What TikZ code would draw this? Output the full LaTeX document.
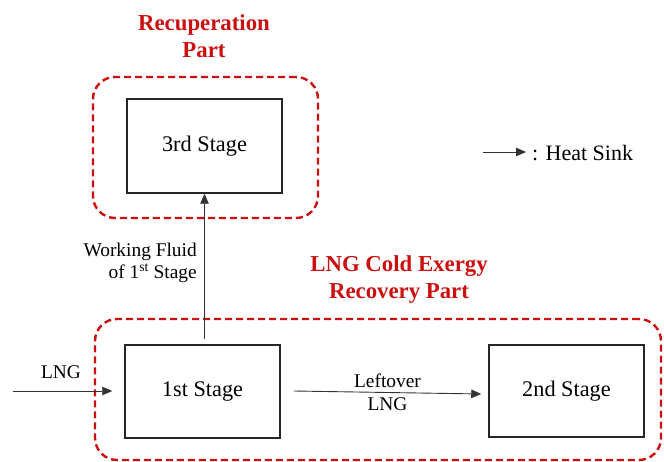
\documentclass[tikz,border=0pt]{standalone}
\usepackage{fontspec}
\setmainfont{LiberationSerif}[
  Extension=.ttf,
  UprightFont=*-Regular,
  BoldFont=*-Bold,
  ItalicFont=*-Italic,
  BoldItalicFont=*-BoldItalic]
\usetikzlibrary{arrows.meta,calc}
\definecolor{partred}{RGB}{204,16,16}
\tikzset{
  stagebox/.style={draw=black!85, line width=1.5pt, inner sep=0pt,
    minimum width=155pt, font=\fontsize{22.3}{26}\selectfont},
  region/.style={draw=partred, line width=2.4pt, dash pattern=on 7pt off 4pt,
    rounded corners=22pt, inner sep=0pt},
  parttitle/.style={text=partred, align=center,
    font=\fontsize{22.8}{27}\selectfont\bfseries},
  flowlabel/.style={font=\fontsize{19.4}{22.5}\selectfont, inner sep=0pt},
  arr/.style={draw=black!80, line width=0.9pt, -{Triangle[length=10pt,width=8.5pt]}}
}
\begin{document}
\begin{tikzpicture}[x=1pt,y=-1pt]
  \useasboundingbox (0,0) rectangle (664,462);

  % dashed part regions
  \node[region, minimum width=225pt, minimum height=141pt] (recup) at (205.5,147.5) {};
  \node[region, minimum width=566pt, minimum height=141pt] (lngpart) at (378,389.5) {};

  % part titles
  \node[parttitle] (recuptitle) at (204,36.5) {Recuperation\\Part};
  \node[parttitle] (lngtitle) at (399,280) {LNG Cold Exergy\\Recovery Part};

  % stages
  \node[stagebox, minimum height=94pt] (s3) at (204.5,146) {3rd Stage};
  \node[stagebox, minimum height=93pt] (s1) at (202.5,391.5) {1st Stage};
  \node[stagebox, minimum height=92pt] (s2) at (566.5,391) {2nd Stage};

  % LNG feed
  \coordinate (lngin) at (13,391);
  \draw[arr, shorten >=12pt] (lngin) -- (lngin -| s1.west);
  \node[flowlabel] (lnglabel) at (61,372) {LNG};

  % working fluid to the 3rd stage
  \draw[arr, shorten <=5pt] (s1.north -| s3.south) -- (s3.south);
  \node[flowlabel, anchor=east, align=right] (wflabel) at (197,263)
    {Working Fluid\\of 1\textsuperscript{st} Stage};

  % leftover LNG to the 2nd stage
  \draw[arr] ($(s1.east)+(13,-0.5)$) -- node[flowlabel, align=center] (leftlabel)
    {Leftover\\LNG} ($(s2.west)+(-7,3)$);

  % legend
  \coordinate (legA) at (483,152);
  \coordinate (legB) at (526,152);
  \draw[arr] (legA) -- (legB);
  \node[anchor=west, inner sep=0pt, font=\fontsize{22}{25}\selectfont] (legtext)
    at (532,153) {: Heat Sink};
\end{tikzpicture}
\end{document}
